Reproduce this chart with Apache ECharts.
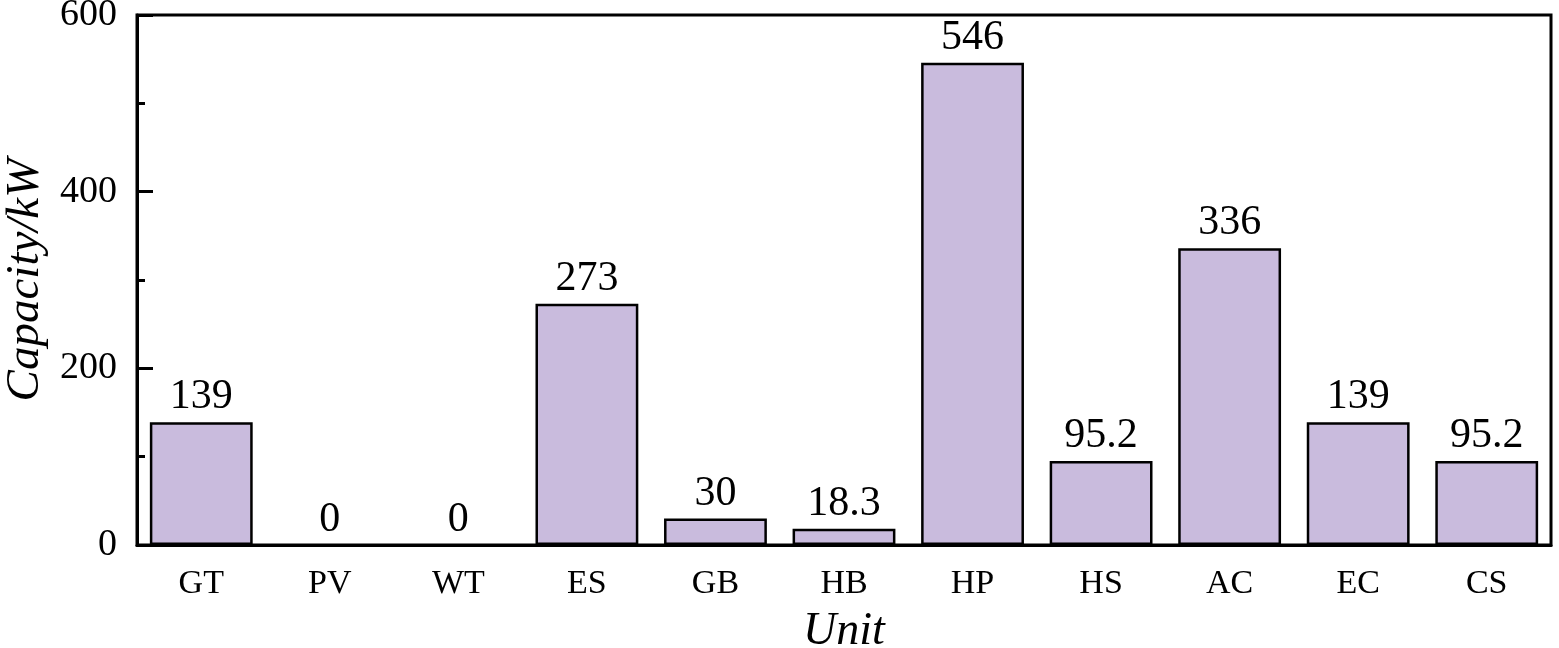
<!DOCTYPE html>
<html>
<head>
<meta charset="utf-8">
<script src="https://cdn.jsdelivr.net/npm/echarts@6/dist/echarts.min.js"></script>
<style>
html,body{margin:0;padding:0;background:#fff;}
#chart{width:1559px;height:648px;}
</style>
</head>
<body>
<div id="chart"></div>
<script>
const categories = ['GT','PV','WT','ES','GB','HB','HP','HS','AC','EC','CS'];
const capacities = [139, 0, 0, 273, 30, 18.3, 546, 95.2, 336, 139, 95.2];
const yTicks = [0, 200, 400, 600];

const serif = 'Liberation Serif';
const barData = capacities.map(v => v === 0 ? {value: v, itemStyle: {borderWidth: 0}} : v);
const chart = echarts.init(document.getElementById('chart'), null, {renderer: 'canvas'});
chart.setOption({
  animation: false,
  backgroundColor: '#ffffff',
  grid: {left: 137, right: 8, top: 15, bottom: 103, outerBoundsMode: 'none', containLabel: false, show: true, borderColor: '#000', borderWidth: 3},
  xAxis: {
    type: 'category',
    data: categories,
    name: 'Unit',
    nameLocation: 'middle',
    nameGap: 64,
    nameTextStyle: {fontFamily: serif, fontStyle: 'italic', fontSize: 46, color: '#000'},
    axisLine: {lineStyle: {color: '#000', width: 3}},
    axisTick: {show: false},
    axisLabel: {fontFamily: serif, fontSize: 34, color: '#000', margin: 22}
  },
  yAxis: {
    type: 'value',
    min: yTicks[0],
    max: yTicks[yTicks.length - 1],
    interval: 200,
    name: 'Capacity/kW',
    nameLocation: 'middle',
    nameGap: 88,
    nameRotate: 90,
    nameTextStyle: {fontFamily: serif, fontStyle: 'italic', fontSize: 47, color: '#000'},
    axisLine: {show: true, lineStyle: {color: '#000', width: 3}},
    axisTick: {show: true, inside: true, length: 16, lineStyle: {color: '#000', width: 3}},
    minorTick: {show: true, splitNumber: 2, length: 8, lineStyle: {color: '#000', width: 3}},
    splitLine: {show: false},
    axisLabel: {fontFamily: serif, fontSize: 38, color: '#000', margin: 20}
  },
  series: [{
    type: 'bar',
    data: barData,
    barCategoryGap: '20%',
    itemStyle: {color: '#C9BBDD', borderColor: '#000', borderWidth: 2.5},
    label: {show: true, position: 'top', distance: 4, fontFamily: serif, fontSize: 42, color: '#000'}
  }]
});
</script>
</body>
</html>
